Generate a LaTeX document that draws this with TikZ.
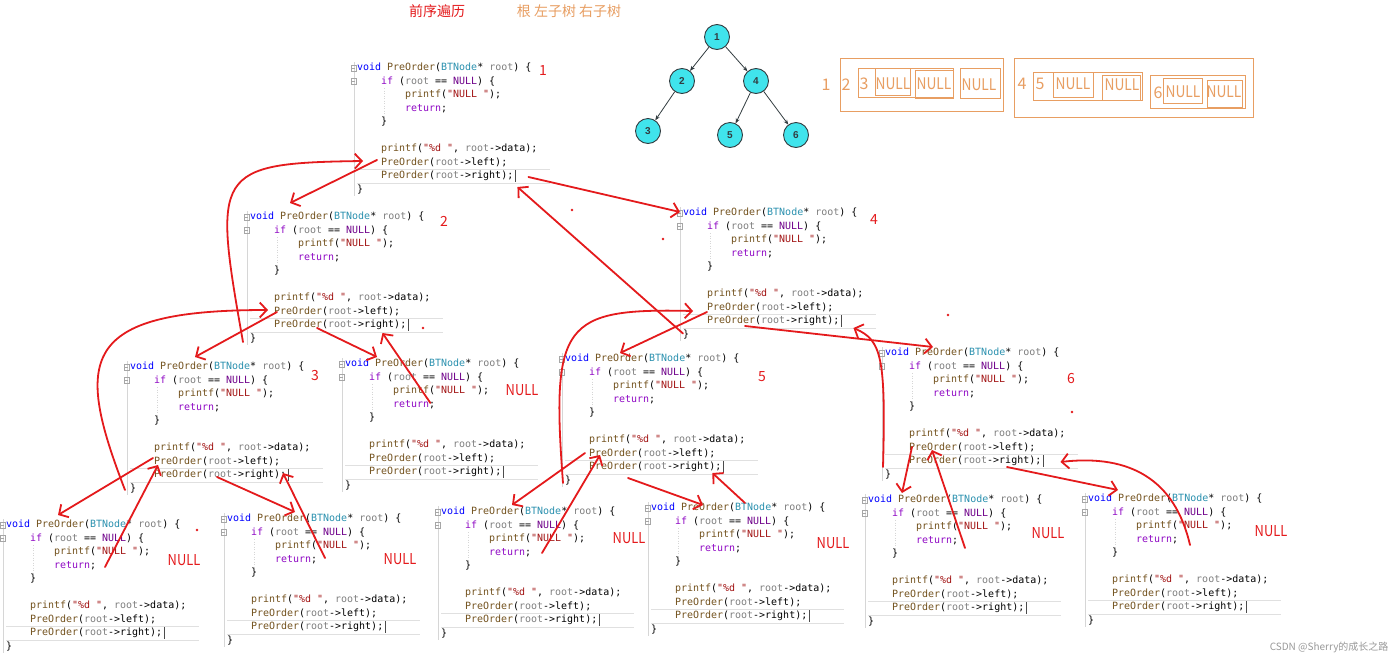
\documentclass[tikz,border=0pt]{standalone}
\usepackage{fontspec}
\usepackage{graphicx}
\setmonofont{DejaVu Sans Mono}
\newfontfamily\cnfont{Noto Sans CJK SC}
\newfontfamily\treefont{Liberation Sans}
\usetikzlibrary{arrows.meta,calc}

\definecolor{penred}{RGB}{228,26,28}
\definecolor{markorange}{RGB}{232,158,98}
\definecolor{treecyan}{RGB}{64,228,236}
\definecolor{treeline}{RGB}{50,60,64}
\definecolor{kwblue}{RGB}{0,0,255}
\definecolor{ctlpurple}{RGB}{143,8,196}
\definecolor{fnbrown}{RGB}{116,83,31}
\definecolor{tyteal}{RGB}{43,145,175}
\definecolor{pagray}{RGB}{128,128,128}
\definecolor{mcpurple}{RGB}{111,0,138}
\definecolor{strred}{RGB}{163,21,21}
\definecolor{guidegray}{RGB}{214,214,214}

% editor colours
\newcommand{\cKw}[1]{\textcolor{kwblue}{#1}}
\newcommand{\cCtl}[1]{\textcolor{ctlpurple}{#1}}
\newcommand{\cFn}[1]{\textcolor{fnbrown}{#1}}
\newcommand{\cTy}[1]{\textcolor{tyteal}{#1}}
\newcommand{\cPar}[1]{\textcolor{pagray}{#1}}
\newcommand{\cMac}[1]{\textcolor{mcpurple}{#1}}
\newcommand{\cStr}[1]{\textcolor{strred}{#1}}
\newcommand{\narrow}[1]{\scalebox{0.86}[1]{#1}}

\tikzset{
  codeline/.style={anchor=west,inner sep=0pt,font=\ttfamily\fontsize{9.97}{12}\selectfont,text height=7pt,text depth=2pt},
  gutter/.style={draw=guidegray,line width=.6pt},
  foldbox/.style={draw=gray!70,line width=.4pt},
  indentguide/.style={draw=guidegray,dotted,line width=.5pt},
  curline/.style={draw=black!12,line width=.6pt},
  caret/.style={draw=black!70,line width=.6pt},
  penarrow/.style={draw=penred,line width=1.8pt,line cap=round,-{Straight Barb[length=7pt,width=15pt]}},
  penlabel/.style={text=penred,font=\cnfont\fontsize{14}{14}\selectfont,inner sep=0pt},
  nulllabel/.style={text=penred,font=\cnfont\fontsize{15}{15}\selectfont,inner sep=0pt},
  tnode/.style={circle,draw=treeline,line width=.9pt,fill=treecyan,minimum size=25pt,inner sep=0pt,
    text=treeline,font=\treefont\bfseries\fontsize{10}{10}\selectfont},
  tedge/.style={draw=treeline,line width=.8pt,-{Stealth[length=5pt,width=4pt]}},
  seqbox/.style={draw=markorange,line width=.8pt},
  seqtext/.style={text=markorange,font=\cnfont\fontsize{16}{16}\selectfont,inner sep=0pt},
}

% one PreOrder frame as the editor shows it: #1 name, (#2,#3) where "void" starts
\newcommand{\preorderframe}[3]{%
  \begin{scope}[shift={(#2,#3)}]
    \draw[gutter] (-3,-6) -- (-3,128);
    \draw[foldbox] (-6,-3) rectangle (-1,3) (-5,0) -- (-2,0);
    \draw[foldbox] (-6,10.5) rectangle (-1,16.5) (-5,13.5) -- (-2,13.5);
    \draw[indentguide] (27,20) -- (27,48);
    \draw[curline] (0,101) -- (193,101) (0,115) -- (193,115);
    \node[codeline] (#1-1) at (0,0) {\cKw{void} \cFn{PreOrder}(\cTy{BTNode}* \cPar{root}) \{};
    \node[codeline] (#1-2) at (24,13.5) {\cCtl{if} (\cPar{root} == \cMac{NULL}) \{};
    \node[codeline] (#1-3) at (48,27) {\cFn{printf}(\cStr{"NULL "});};
    \node[codeline] (#1-4) at (48,40.5) {\cCtl{return};};
    \node[codeline] (#1-5) at (24,54) {\}};
    \node[codeline] (#1-7) at (24,81) {\cFn{printf}(\cStr{"\%d "}, \cPar{root}->data);};
    \node[codeline] (#1-8) at (24,94.5) {\cFn{PreOrder}(\cPar{root}->left);};
    \node[codeline] (#1-9) at (24,108) {\cFn{PreOrder}(\cPar{root}->right);};
    \node[codeline] (#1-10) at (0,121.5) {\}};
    \draw[caret] (158,102) -- (158,114);
  \end{scope}}

\begin{document}
\begin{tikzpicture}[x=1pt,y=-1pt]
  \path[use as bounding box,fill=white] (0,0) rectangle (1400,659);

  % heading
  \node[penlabel] (title) at (437,11) {前序遍历};
  \node[seqtext,font=\cnfont\fontsize{14}{14}\selectfont] (order) at (569,11) {根 左子树 右子树};

  % the tree
  \node[tnode] (t1) at (717,37) {1};
  \node[tnode] (t2) at (682,81) {2};
  \node[tnode] (t4) at (756,81) {4};
  \node[tnode] (t3) at (648,131) {3};
  \node[tnode] (t5) at (730,135) {5};
  \node[tnode] (t6) at (796,135) {6};
  \draw[tedge] (t1) -- (t2);
  \draw[tedge] (t1) -- (t4);
  \draw[tedge] (t2) -- (t3);
  \draw[tedge] (t4) -- (t5);
  \draw[tedge] (t4) -- (t6);

  % printed sequence with its groups
  \node[seqtext] (s1) at (826,85) {1};
  \draw[seqbox] (840,58) rectangle (1003,111);
  \node[seqtext] (s2) at (846,85) {2};
  \draw[seqbox] (858,68) rectangle (953,97);
  \node[seqtext] (s3) at (864,84) {3};
  \draw[seqbox] (875,68) rectangle (910,95);
  \node[seqtext] (sn1) at (893,84) {\narrow{NULL}};
  \draw[seqbox] (915,70) rectangle (953,98);
  \node[seqtext] (sn2) at (934,84) {\narrow{NULL}};
  \draw[seqbox] (960,68) rectangle (1000,98);
  \node[seqtext] (sn3) at (979,85) {\narrow{NULL}};
  \node[seqtext] (s4) at (1022,84) {4};
  \draw[seqbox] (1014,58) rectangle (1253,117);
  \draw[seqbox] (1033,72) rectangle (1142,100);
  \node[seqtext] (s5) at (1040,84) {5};
  \draw[seqbox] (1053,72) rectangle (1093,97);
  \node[seqtext] (sn4) at (1073,84) {\narrow{NULL}};
  \draw[seqbox] (1102,75) rectangle (1140,100);
  \node[seqtext] (sn5) at (1122,85) {\narrow{NULL}};
  \draw[seqbox] (1150,75) rectangle (1245,108);
  \node[seqtext] (s6) at (1158,93) {6};
  \draw[seqbox] (1163,78) rectangle (1202,103);
  \node[seqtext] (sn6) at (1183,92) {\narrow{NULL}};
  \draw[seqbox] (1207,80) rectangle (1242,107);
  \node[seqtext] (sn7) at (1224,92) {\narrow{NULL}};

  % call frames
  \preorderframe{b1}{357}{68}
  \preorderframe{b2}{250}{217}
  \preorderframe{b4}{683}{213}
  \preorderframe{b3}{130}{367}
  \preorderframe{b2R}{345}{364}
  \preorderframe{b5}{565}{359}
  \preorderframe{b6}{885}{353}
  \preorderframe{b3L}{6}{525}
  \preorderframe{b3R}{227}{519}
  \preorderframe{b5L}{441}{512}
  \preorderframe{b5R}{651}{508}
  \preorderframe{b6L}{868}{500}
  \preorderframe{b6R}{1088}{499}

  % frame numbers and NULL returns
  \node[penlabel] (n1) at (543,71) {1};
  \node[penlabel] (n2) at (444,221) {2};
  \node[penlabel] (n3) at (315,376) {3};
  \node[penlabel] (n4) at (874,220) {4};
  \node[penlabel] (n5) at (762,377) {5};
  \node[penlabel] (n6) at (1071,379) {6};
  \node[nulllabel] (z2R) at (522,390) {\narrow{NULL}};
  \node[nulllabel] (z3L) at (184,560) {\narrow{NULL}};
  \node[nulllabel] (z3R) at (400,559) {\narrow{NULL}};
  \node[nulllabel] (z5L) at (629,538) {\narrow{NULL}};
  \node[nulllabel] (z5R) at (833,543) {\narrow{NULL}};
  \node[nulllabel] (z6L) at (1048,533) {\narrow{NULL}};
  \node[nulllabel] (z6R) at (1271,531) {\narrow{NULL}};

  % calls going down, returns coming back
  \draw[penarrow] ($(b1-8.west)+(-4,-2.5)$) -- ($(b2-1.west)+(40,-14)$);
  \draw[penarrow] ($(b2-10.west)+(-7,3.5)$) .. controls +(-30,-170) and +(-150,2) .. ($(b1-8.west)+(-18,-1.5)$);
  \draw[penarrow] ($(b1-9.east)+(15,1)$) -- ($(b4-1.west)+(-3,-1)$);
  \draw[penarrow] ($(b4-10.west)+(0,-1)$) -- ($(b1-9.east)+(4,11)$);

  \draw[penarrow] ($(b2-8.west)+(3,.5)$) -- ($(b3-1.west)+(65,-10)$);
  \draw[penarrow] ($(b3-10.west)+(-5,1.5)$) .. controls +(-50,-130) and +(-190,0) .. ($(b2-8.west)+(-6,-1.5)$);
  \draw[penarrow] ($(b2-9.west)+(43,3)$) -- ($(b2R-1.west)+(32,-7)$);
  \draw[penarrow] ($(b2R-4.east)+(-5,-1.5)$) -- ($(b2-9.east)+(-24,8)$);

  \draw[penarrow] ($(b4-8.west)+(0,4.5)$) -- ($(b5-1.west)+(55,-6)$);
  \draw[penarrow] ($(b5-10.west)+(-2,2.5)$) .. controls +(-12,-160) and +(-130,-3) .. ($(b4-8.west)+(-14,3.5)$);
  \draw[penarrow] ($(b4-9.west)+(38,5)$) -- ($(b6-1.west)+(48,-6)$);
  \draw[penarrow] ($(b6-10.west)+(-2,-7.5)$) .. controls +(3,-110) and +(28,12) .. ($(b4-9.east)+(14,7)$);

  \draw[penarrow] ($(b3-8.west)+(-1,-3.5)$) -- ($(b3L-1.west)+(52,-10)$);
  \draw[penarrow] ($(b3L-4.west)+(51,1.5)$) -- ($(b3-8.west)+(4,3.5)$);
  \draw[penarrow] ($(b3-9.west)+(63,2)$) -- ($(b3R-1.west)+(68,-7)$);
  \draw[penarrow] ($(b3R-4.west)+(50,-1.5)$) -- ($(b3-9.west)+(129,-2)$);

  \draw[penarrow] ($(b5-8.west)+(-4,-.5)$) -- ($(b5L-1.west)+(71,-7)$);
  \draw[penarrow] ($(b5L-4.west)+(53,.5)$) -- ($(b5-8.west)+(11,1.5)$);
  \draw[penarrow] ($(b5-9.west)+(39,11)$) -- ($(b5R-1.west)+(52,-3)$);
  \draw[penarrow] ($(b5R-1.west)+(94,-5)$) -- ($(b5-9.east)+(-9,6)$);

  \draw[penarrow] ($(b6-8.west)+(3,-.5)$) -- ($(b6L-1.west)+(34,-7)$);
  \draw[penarrow] ($(b6L-4.west)+(49,7.5)$) -- ($(b6-8.west)+(23,2.5)$);
  \draw[penarrow] ($(b6-9.west)+(98,6)$) -- ($(b6R-1.west)+(30,-9)$);
  \draw[penarrow] ($(b6R-4.west)+(54,5.5)$) .. controls +(-15,-65) and +(70,-8) .. ($(b6-9.east)+(19,1)$);

  % stray pen dots
  \fill[penred] (572,210) circle (1.3) (663,239) circle (1.3) (423,328) circle (1.3)
    (197,530) circle (1.3) (948,315) circle (1.3) (1072,412) circle (1.3);

  % watermark
  \node[anchor=east,text=black!40,font=\cnfont\fontsize{10}{10}\selectfont] (mark) at (1392,647) {CSDN @Sherry的成长之路};
\end{tikzpicture}
\end{document}
